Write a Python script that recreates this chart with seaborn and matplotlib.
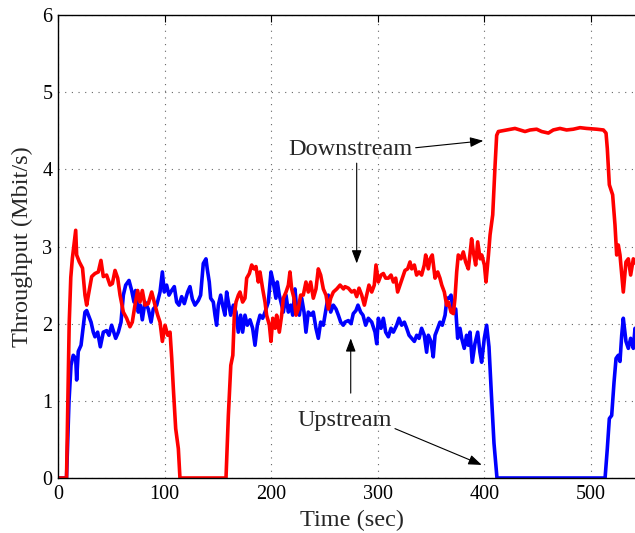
import matplotlib
matplotlib.use("Agg")
import matplotlib.pyplot as plt
import seaborn as sns
import pandas as pd

# ---- data ----
down_t = [0, 8, 9.5, 10.5, 12, 13.5, 16.6, 17.5, 20, 23, 25.3, 26.9, 28.5, 31.6, 34.7, 37.8, 40.3,
          42.5, 45.6, 48.8, 51, 53.5, 56, 58.2, 61.3, 64.4, 67.5, 69.7, 72.2, 74.7, 76.9, 79.1,
          81.6, 84.7, 87.9, 91, 93.5, 95.7, 97.9, 100.4, 102.9, 105.1, 106.7, 108.2, 110.4, 112.9,
          114.4, 157.6, 159.8, 162.1, 164, 165.4, 167, 169.2, 170.7, 173.2, 175.4, 177.0, 179.5,
          181.7, 183.9, 185.7, 187.9, 189.5, 192.0, 194.2, 195.7, 198.3, 199.8, 201.5, 203.7,
          205.1, 207.6, 209.8, 211.4, 213.9, 216.1, 217.6, 219.2, 221.4, 223.3, 225.4, 227.6,
          230.1, 232.6, 234.8, 237.0, 239.5, 242.0, 244.2, 246.4, 248.9, 251.4, 253.6, 255.8,
          258.3, 261.5, 264.6, 267.8, 269.2, 272.4, 275.5, 278, 280.2, 282.4, 284.9, 287.4,
          289.6, 291.7, 294.3, 296.7, 298.3, 300.5, 303, 305.2, 307.4, 309.9, 312.4, 314.6,
          316.8, 318.6, 320.8, 323, 325.5, 328, 330.2, 331.8, 334.3, 336.4, 338.7, 341.1, 343.6,
          344.9, 347.4, 349, 351.1, 353.7, 356.2, 358.3, 360, 362.4, 364.6, 366.2, 368.7, 370.9,
          372.4, 374, 375.5, 378, 380.2, 382.4, 384.9, 386.4, 388, 389.6, 391.8, 393.7, 396,
          397.5, 400, 401.5, 403.8, 405.3, 407.8, 410, 411.5, 413.1, 420.9, 428.7, 433.4, 438.1,
          442.8, 449, 453.7, 460, 464.6, 470.9, 477.1, 483.4, 489.7, 495.9, 505.3, 511.6, 514.1,
          515.3, 517.2, 520.3, 522.5, 524.1, 525.6, 527.2, 530.3, 532.8, 535, 537.2, 539.7, 541.3,
          545, 550]
down_v = [0, 0, 1.2, 2.0, 2.6, 2.85, 3.21, 2.89, 2.8, 2.72, 2.37, 2.24, 2.37, 2.61, 2.65, 2.67, 2.82,
          2.61, 2.63, 2.50, 2.52, 2.69, 2.59, 2.37, 2.15, 2.07, 1.96, 2.02, 2.24, 2.43, 2.28, 2.43,
          2.24, 2.26, 2.41, 2.24, 2.11, 2.02, 1.77, 1.98, 1.85, 1.89, 1.55, 1.16, 0.64, 0.38,
          0, 0, 0.81, 1.46, 1.59, 2.11, 2.28, 2.37, 2.41, 2.28, 2.33, 2.59, 2.65,
          2.76, 2.71, 2.74, 2.54, 2.67, 2.45, 2.28, 2.11, 1.98, 1.77, 2.07, 1.94,
          2.11, 1.89, 2.11, 2.33, 2.41, 2.50, 2.67, 2.45, 2.33, 2.11, 2.19, 2.37,
          2.37, 2.54, 2.41, 2.54, 2.33, 2.45, 2.71, 2.63, 2.45, 2.37, 2.19, 2.33,
          2.41, 2.45, 2.50, 2.45, 2.48, 2.46, 2.41, 2.43, 2.35, 2.46, 2.37, 2.24,
          2.37, 2.50, 2.41, 2.50, 2.76, 2.54, 2.63, 2.65, 2.59, 2.59, 2.63, 2.54,
          2.59, 2.41, 2.50, 2.59, 2.69, 2.71, 2.80, 2.71, 2.76, 2.63, 2.67, 2.63, 2.76,
          2.89, 2.71, 2.84, 2.89, 2.59, 2.67, 2.59, 2.50, 2.41, 2.24, 2.28, 2.15, 2.13,
          2.33, 2.67, 2.89, 2.84, 2.93, 2.80, 2.71, 2.89, 3.10, 2.93, 2.76, 3.06, 2.84,
          2.89, 2.76, 2.54, 2.89, 3.15, 3.41, 4.05, 4.44, 4.49, 4.51, 4.53, 4.51, 4.49,
          4.51, 4.52, 4.49, 4.47, 4.51, 4.53, 4.51, 4.52, 4.54, 4.53, 4.52, 4.51, 4.47,
          4.27, 3.80, 3.67, 3.28, 2.89, 3.02, 2.89, 2.41, 2.80, 2.84, 2.63, 2.84, 2.80,
          2.7, 2.75]

up_t = [0, 8, 10.3, 12.2, 14.3, 16.6, 17.5, 19, 21.6, 23.8, 25.3, 26.9, 28.5, 31, 33.1, 34.7, 37.2,
        39.7, 42.5, 45.6, 47.8, 50.3, 51.9, 54.1, 56.6, 59.1, 61.3, 63.5, 66.6, 69.1, 71.3, 72.8,
        75.3, 77.2, 79.1, 81.6, 84.7, 87.3, 89.4, 92.6, 95.7, 97.9, 99.7, 101.9, 104.1, 106.6,
        109.1, 111.3, 113.5, 116, 118.5, 121.6, 123.8, 126, 128.5, 131.6, 133.8, 136.3, 138.8,
        140, 141.9, 143.2, 145.7, 147.3, 148.8, 150.4, 152.6, 154.4, 156.6, 158.2, 159.8, 162,
        164.5, 167, 169.1, 171.3, 173.2, 175.4, 177.6, 180.1, 182.6, 184.8, 187, 189.5, 192,
        194.2, 197.3, 199.8, 201.9, 204.4, 205.7, 207.6, 209.8, 211.4, 213.9, 216.1, 218.3,
        220.2, 222.3, 223.9, 226.4, 228.6, 230.8, 232.6, 234.8, 237.3, 239.5, 242, 244.2, 246.4,
        248.9, 251.4, 253.6, 255.8, 258.3, 260.8, 263, 265.2, 267.6, 269.2, 272.4, 274.9, 277,
        279.5, 281.4, 283.9, 286.1, 288.6, 291.1, 294.3, 297.4, 299, 300.5, 303, 305.2, 307.4,
        309.9, 312.4, 314.6, 317.7, 319.9, 322.4, 324.9, 327.1, 329.3, 331.8, 334.3, 336.5,
        338.7, 341.1, 343.6, 345.8, 347.4, 349.9, 352, 353.7, 356.2, 358.3, 360.5, 363.1, 364.9,
        366.8, 368.7, 370.9, 373.1, 374.9, 377.1, 378.7, 381.1, 383.3, 384.9, 386.5, 388.6,
        391.1, 393.7, 395.8, 397.4, 399.9, 402.1, 404.3, 406.5, 409, 411.8, 513.2, 515.3, 517.2,
        519.4, 521.6, 523.5, 525.6, 527.2, 528.8, 530.3, 532.8, 535, 537.2, 539.7, 541.3,
        545, 550]
up_v = [0, 0, 0.99, 1.46, 1.59, 1.55, 1.27, 1.64, 1.72, 1.98, 2.15, 2.17, 2.11, 2.02, 1.89, 1.83, 1.89,
        1.70, 1.89, 1.91, 1.85, 1.98, 1.91, 1.81, 1.89, 2.02, 2.37, 2.50, 2.56, 2.43, 2.28, 2.43,
        2.15, 2.24, 2.05, 2.28, 2.19, 2.02, 2.19, 2.24, 2.41, 2.67, 2.41, 2.50, 2.37, 2.43,
        2.48, 2.28, 2.24, 2.35, 2.26, 2.41, 2.48, 2.32, 2.24, 2.30, 2.37, 2.78, 2.84,
        2.71, 2.54, 2.33, 2.28, 2.11, 1.98, 2.24, 2.37, 2.24, 2.11, 2.41, 2.28, 2.11,
        2.24, 2.15, 1.89, 2.11, 1.89, 2.11, 1.98, 2.05, 1.94, 1.72, 1.98, 2.11, 2.07,
        2.15, 2.28, 2.67, 2.54, 2.33, 2.54, 2.37, 2.24, 2.15, 2.37, 2.15, 2.24,
        2.11, 2.45, 2.19, 2.11, 2.33, 2.15, 1.89, 2.15, 2.11, 2.15, 1.94, 1.81, 2.02,
        1.98, 2.19, 2.37, 2.15, 2.24, 2.19, 2.11, 2.02, 1.98, 2.02, 2.04, 2.00, 2.13,
        2.17, 2.24, 2.15, 2.11, 1.98, 2.07, 2.02, 1.89, 1.74, 2.07, 1.94, 2.07, 1.89,
        1.83, 1.94, 1.89, 1.98, 2.07, 1.98, 2.02, 1.94, 1.85, 1.81, 1.77, 1.85,
        1.81, 1.94, 1.85, 1.63, 1.85, 1.77, 1.57, 1.85, 1.94, 2.02, 1.98, 2.11, 2.33,
        2.33, 2.37, 2.15, 2.19, 1.81, 1.94, 1.81, 1.68, 1.85, 1.72, 1.89, 1.50,
        1.74, 1.89, 1.63, 1.50, 1.81, 1.98, 1.7, 1.1, 0.45, 0, 0, 0.38, 0.77,
        0.81, 1.24, 1.55, 1.59, 1.51, 1.85, 2.07, 1.77, 1.68, 1.81, 1.68, 1.94,
        1.8, 1.75]

x_ticks = [0, 100, 200, 300, 400, 500]
y_ticks = [0, 1, 2, 3, 4, 5, 6]
x_label = "Time (sec)"
y_label = "Throughput (Mbit/s)"
label_down = "Downstream"
label_up = "Upstream"

# ---- style ----
sns.set_style("white")
plt.rcParams["font.family"] = ["Liberation Serif", "DejaVu Serif"]

W, H = 635, 533
fig = plt.figure(figsize=(W / 100, H / 100), dpi=100)
ax_left, ax_right, ax_bottom, ax_top = 58, 644, 478, 15
ax = fig.add_axes([ax_left / W, (H - ax_bottom) / H, (ax_right - ax_left) / W, (ax_bottom - ax_top) / H])

df_up = pd.DataFrame({"t": up_t, "v": up_v})
df_down = pd.DataFrame({"t": down_t, "v": down_v})
sns.lineplot(data=df_up, x="t", y="v", ax=ax, color="#0000FF", lw=2.6, estimator=None, sort=False)
sns.lineplot(data=df_down, x="t", y="v", ax=ax, color="#FF0000", lw=2.6, estimator=None, sort=False)

ax.set_xlim(0, (ax_right - ax_left) / 1.066)
ax.set_ylim(0, 6)
ax.set_xticks(x_ticks)
ax.set_yticks(y_ticks)
ax.set_xticklabels([str(t) for t in x_ticks])
ax.set_yticklabels([str(t) for t in y_ticks])
ax.tick_params(direction="in", length=5, width=0.8, top=True, right=True,
               labelsize=14.5, colors="black")
ax.tick_params(axis="x", pad=5)
ax.tick_params(axis="y", pad=4)
ax.grid(True, linestyle=(0, (1, 5)), color="0.4", linewidth=0.8)
for s in ax.spines.values():
    s.set_color("black")
    s.set_linewidth(1.0)

ax.set_xlabel(x_label, fontsize=17.5)
ax.set_ylabel(y_label, fontsize=17.5)
ax.xaxis.set_label_coords(0.501, -0.069)
ax.yaxis.set_label_coords(-0.043, 0.5)

# annotations
ax.text(274.4, 4.26, label_down, fontsize=17.5, ha="center", va="center")
ax.text(269.2, 0.75, label_up, fontsize=17.5, ha="center", va="center")
aprops = dict(arrowstyle="-|>,head_length=0.8,head_width=0.3", color="black",
              lw=0.8, shrinkA=0, shrinkB=0, mutation_scale=10)
ax.annotate("", xy=(399.0, 4.37), xytext=(335.5, 4.28), arrowprops=aprops)
ax.annotate("", xy=(280.2, 2.78), xytext=(280.2, 4.08), arrowprops=aprops)
ax.annotate("", xy=(274.6, 1.81), xytext=(274.6, 1.10), arrowprops=aprops)
ax.annotate("", xy=(397.5, 0.17), xytext=(316.1, 0.64), arrowprops=aprops)

fig.savefig("out.png", dpi=100)
